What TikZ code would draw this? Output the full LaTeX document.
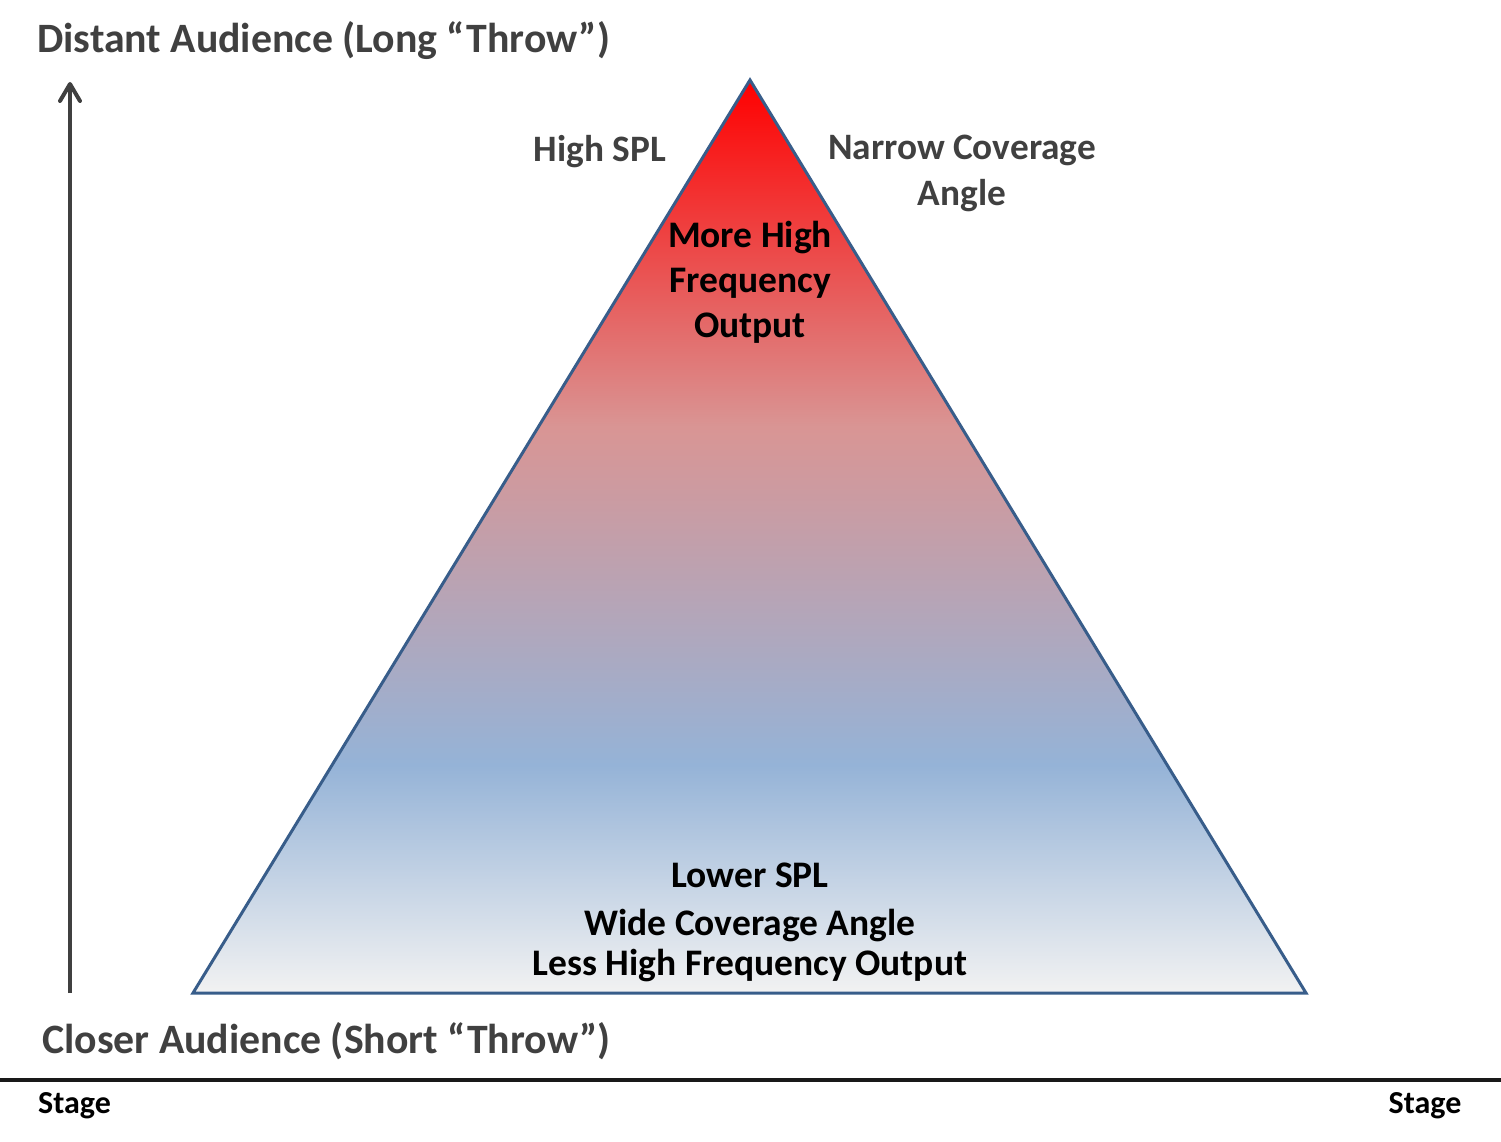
\documentclass[tikz,border=0pt]{standalone}
\usepackage{fontspec}
\setmainfont{Carlito}
\usetikzlibrary{arrows.meta}

\definecolor{txtgray}{RGB}{64,64,64}
\definecolor{edgeblue}{RGB}{56,93,138}
\definecolor{topred}{RGB}{255,0,0}
\definecolor{midpink}{RGB}{217,149,148}
\definecolor{midblue}{RGB}{149,179,215}
\definecolor{basegray}{RGB}{242,242,242}

\pgfdeclareverticalshading{pyramid}{100bp}{color(0bp)=(basegray); color(25bp)=(basegray); color(37.5bp)=(midblue); color(56bp)=(midpink); color(75bp)=(topred); color(100bp)=(topred)}

\tikzset{
  throwlbl/.style={inner sep=0, text=txtgray, font=\bfseries\fontsize{41.8}{45}\selectfont},
  sidelbl/.style={inner sep=0, anchor=base, text=txtgray, font=\bfseries\fontsize{37.3}{45}\selectfont},
  innerlbl/.style={inner sep=0, anchor=base, text=black, font=\bfseries\fontsize{37.5}{45}\selectfont},
  stagelbl/.style={inner sep=0, text=black, font=\bfseries\fontsize{32}{36}\selectfont}
}

\begin{document}
\begin{tikzpicture}[x=1pt,y=-1pt]
  \useasboundingbox (0,0) rectangle (1501,1142);
  \coordinate [] (A) at (750,80);
  \coordinate [] (B) at (193,993);
  \coordinate [] (C) at (1306,993);
  \coordinate [] (lo) at (70,993);
  \coordinate [] (hi) at (70,82);
  \coordinate [] (SL) at (0,1080);
  \coordinate [] (SR) at (1501,1080);

  \shade[shading=pyramid] (A) -- (B) -- (C) -- cycle;
  \draw[edgeblue, line width=3] (A) -- (B) -- (C) -- cycle;
  \draw[txtgray, line width=4, -{Straight Barb[length=17pt,width=20pt,round]}] (lo) -- (hi);
  \draw[black!90, line width=4] (SL) -- (SR);

  \node[throwlbl, anchor=base west] (far) at (37,53) {Distant Audience (Long “Throw”)};
  \node[throwlbl, anchor=base west] (near) at (42,1053) {Closer Audience (Short “Throw”)};

  \node[sidelbl] (hispl) at (600,162) {High SPL};
  \node[sidelbl] (narrow) at (962,160) {Narrow Coverage};
  \node[sidelbl] (angle) at (962,205) {Angle};

  \node[innerlbl] (more) at (750,247) {More High};
  \node[innerlbl] (freq) at (750,292) {Frequency};
  \node[innerlbl] (out) at (750,337) {Output};

  \node[innerlbl] (lowspl) at (750,887) {Lower SPL};
  \node[innerlbl] (wide) at (750,935) {Wide Coverage Angle};
  \node[innerlbl] (less) at (750,975) {Less High Frequency Output};

  \node[stagelbl, anchor=base west] (stl) at (38,1113) {Stage};
  \node[stagelbl, anchor=base] (str) at (1425,1113) {Stage};
\end{tikzpicture}
\end{document}
